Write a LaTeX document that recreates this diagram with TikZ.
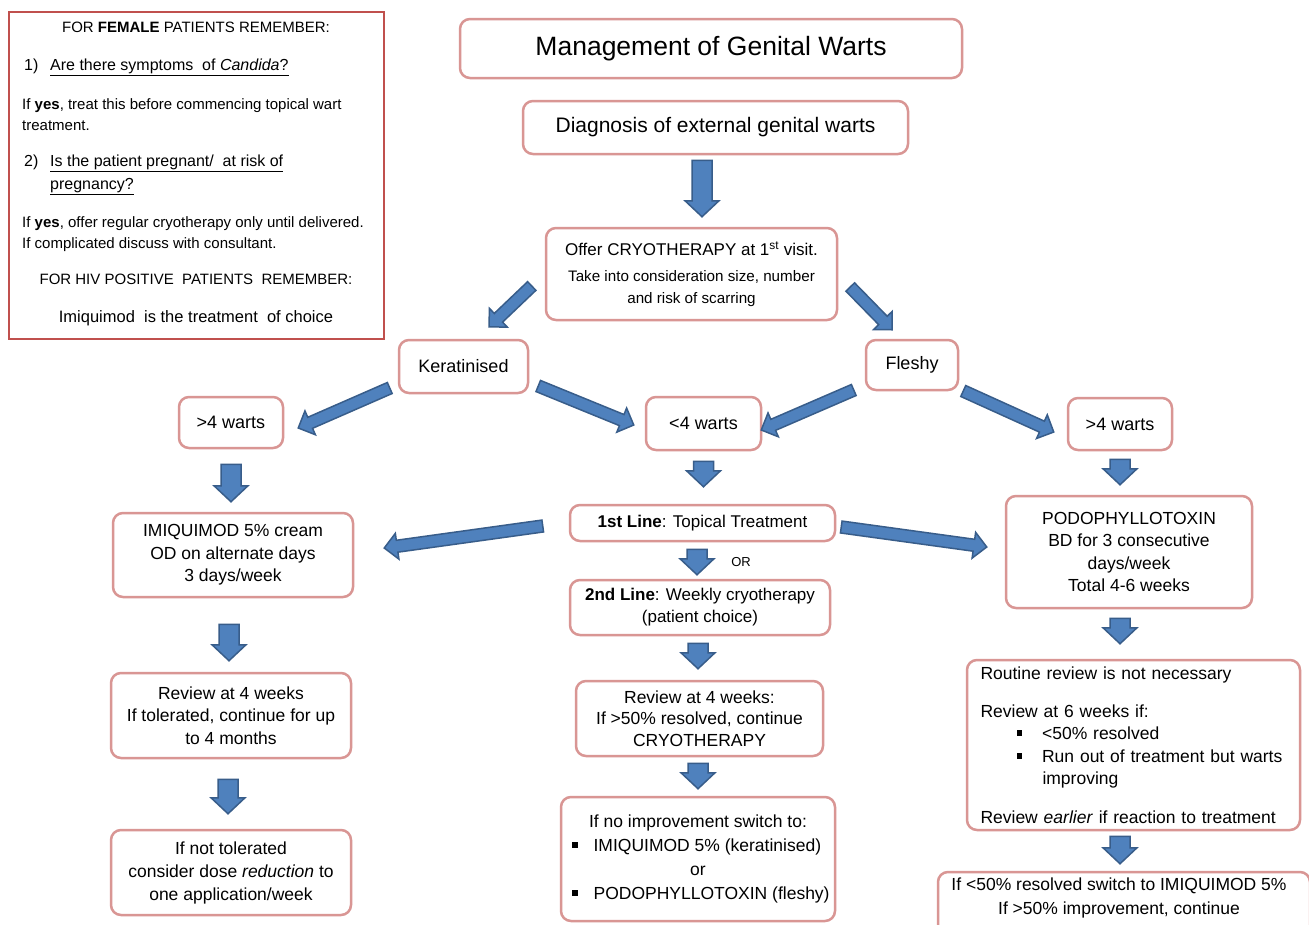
\documentclass[tikz,border=0pt]{standalone}
\usepackage{fontspec}
\setmainfont{Liberation Sans}
\usetikzlibrary{calc}
\definecolor{boxpink}{RGB}{217,150,148}
\definecolor{sidered}{RGB}{192,80,77}
\definecolor{arrowblue}{RGB}{79,129,189}
\definecolor{arrowedge}{RGB}{56,93,138}
\tikzset{
box/.style = {draw=boxpink, line width=2.5pt, rounded corners=10pt, fill=white,
              align=center, inner sep=2pt, font=\fontsize{17.5}{22.5}\selectfont}
}
\tikzset{
wartbox/.style = {box, font=\fontsize{18}{22}\selectfont},
note/.style = {inner sep=0pt, font=\fontsize{15}{21}\selectfont},
bignote/.style = {inner sep=0pt, font=\fontsize{16}{21}\selectfont},
bigarrow/.style = {fill=arrowblue, draw=arrowedge, line width=1.5pt, line join=miter}
}
\newcommand{\sqb}{\rule[0.2em]{0.32em}{0.32em}}
\newcommand{\smalltxt}{\fontsize{15.2}{20}\selectfont}
% half shaft, half head, head length, tail, tip
\newcommand{\blockarrow}[5]{%
  \coordinate (at) at (#4);
  \coordinate (ah) at (#5);
  \coordinate (hb) at ($(ah)!#3!(at)$);
  \path[bigarrow] ($(at)!#1!90:(ah)$) -- ($(hb)!#1!90:(ah)$) -- ($(hb)!#2!90:(ah)$) -- (ah)
     -- ($(hb)!#2!-90:(ah)$) -- ($(hb)!#1!-90:(ah)$) -- ($(at)!#1!-90:(ah)$) -- cycle;
}
\newcommand{\vbarrow}[2]{\blockarrow{10pt}{17pt}{16pt}{#1}{#2}}
\newcommand{\dbarrow}[2]{\blockarrow{6pt}{13pt}{13pt}{#1}{#2}}

\begin{document}
\begin{tikzpicture}[x=1pt,y=-1pt]
    \clip (0,0) rectangle (1309,924);
    \fill[white] (0,0) rectangle (1309,924);

    % QUADRO LATERAL
    \node[draw=sidered, line width=2.5pt, fill=white, minimum width=375, minimum height=327] (side) at (196.5,175.5) {};
    \node[note, anchor=base] (fem) at (196,32) {FOR \textbf{FEMALE} PATIENTS REMEMBER:};
    \node[bignote, anchor=base west] (qa) at (24,70) {1)};
    \node[bignote, anchor=base west] (qat) at (50,70) {\underline{Are there symptoms\ \ of \textit{Candida}?}};
    \node[note, anchor=base west] (qab) at (22,109) {If \textbf{yes}, treat this before commencing topical wart};
    \node[note, anchor=base west] (qac) at (22,130) {treatment.};
    \node[bignote, anchor=base west] (qb) at (24,166) {2)};
    \node[bignote, anchor=base west] (qbt) at (50,166) {\underline{Is the patient pregnant/\ \ at risk of}};
    \node[bignote, anchor=base west] (qbu) at (50,189) {\underline{pregnancy?}};
    \node[note, anchor=base west] (qbb) at (22,227) {If \textbf{yes}, offer regular cryotherapy only until delivered.};
    \node[note, anchor=base west] (qbc) at (22,248) {If complicated discuss with consultant.};
    \node[note, anchor=base] (hiv) at (196,284) {FOR HIV POSITIVE\ \ PATIENTS\ \ REMEMBER:};
    \node[bignote, font=\fontsize{16.5}{21}\selectfont, anchor=base] (imq) at (196,322) {Imiquimod\ \ is the treatment\ \ of choice};

    % CAIXAS
    \node[box, minimum width=502, minimum height=59, font=\fontsize{26.5}{30}\selectfont] (title) at (711,48.5) {Management of Genital Warts};
    \node[box, minimum width=385, minimum height=53, font=\fontsize{21}{25}\selectfont] (diag) at (715.5,127.5) {Diagnosis of external genital warts};
    \node[box, minimum width=291, minimum height=92, font=\fontsize{17}{22}\selectfont] (offer) at (691.5,274)
        {Offer CRYOTHERAPY at 1\textsuperscript{st} visit.\\[4pt]
         \smalltxt Take into consideration size, number\\ \smalltxt and risk of scarring};
    \node[wartbox, minimum width=129, minimum height=53] (kerat) at (463.5,366.5) {Keratinised};
    \node[wartbox, minimum width=92, minimum height=50] (fleshy) at (912,365) {Fleshy};
    \node[wartbox, minimum width=104, minimum height=51] (gtl) at (231,422.5) {>4 warts};
    \node[wartbox, minimum width=115, minimum height=53] (lt) at (703.5,423.5) {<4 warts};
    \node[wartbox, minimum width=104, minimum height=52] (gtr) at (1120,424) {>4 warts};

    \node[box, minimum width=240, minimum height=84] (imiq) at (233,555) {IMIQUIMOD 5\% cream\\OD on alternate days\\3 days/week};
    \node[box, minimum width=265, minimum height=36, font=\fontsize{17}{22}\selectfont] (lineone) at (702.5,523) {\textbf{1st Line}: Topical Treatment};
    \node[font=\fontsize{13}{15}\selectfont] (orlbl) at (741,562) {OR};
    \node[box, minimum width=260, minimum height=55, font=\fontsize{17}{22}\selectfont] (linetwo) at (700,607.5) {\textbf{2nd Line}: Weekly cryotherapy\\(patient choice)};
    \node[box, minimum width=246, minimum height=112] (podo) at (1129,552) {PODOPHYLLOTOXIN\\BD for 3 consecutive\\days/week\\Total 4-6 weeks};

    \node[box, minimum width=240, minimum height=85] (revl) at (231,715.5) {Review at 4 weeks\\If tolerated, continue for up\\to 4 months};
    \node[box, minimum width=247, minimum height=75, font=\fontsize{17.5}{21.5}\selectfont] (revm) at (699.5,718.5) {Review at 4 weeks:\\If >50\% resolved, continue\\CRYOTHERAPY};
    \node[box, minimum width=333, minimum height=170, text width=306, align=left, inner xsep=12pt] (routine) at (1133.5,745)
        {Routine review is not necessary\\[15pt]
         Review at 6 weeks if:\\
         \hspace*{36pt}\sqb\hspace{20pt}<50\% resolved\\
         \hspace*{36pt}\sqb\hspace{20pt}Run out of treatment but warts\\
         \hspace*{62pt}improving\\[16pt]
         Review \textit{earlier} if reaction to treatment};

    \node[box, minimum width=240, minimum height=85, font=\fontsize{17.5}{23}\selectfont] (nottol) at (231,872.5) {If not tolerated\\consider dose \textit{reduction} to\\one application/week};
    \node[box, minimum width=274, minimum height=124, font=\fontsize{17.5}{24}\selectfont] (noimp) at (698,859)
        {If no improvement switch to:\\
         \makebox[252pt][l]{\sqb\hspace{16pt}IMIQUIMOD 5\% (keratinised)}\\
         or\\
         \makebox[252pt][l]{\sqb\hspace{16pt}PODOPHYLLOTOXIN (fleshy)}};
    \node[box, minimum width=372, minimum height=80] (switch) at (1124,912) {};
    \node[font=\fontsize{17.5}{24}\selectfont, align=center] (switchtxt) at (1119,898) {If <50\% resolved switch to IMIQUIMOD 5\%\\If >50\% improvement, continue};

    % SETAS
    \vbarrow{$(diag.south)+(-13.5,5)$}{$(offer.north)+(10.5,-10)$}
    \vbarrow{$(lt.south)+(0,10)$}{$(lineone.north)+(1,-17)$}
    \vbarrow{$(gtl.south)+(0,15)$}{$(imiq.north)+(-2,-10)$}
    \vbarrow{$(lineone.south)+(-5.5,7)$}{$(linetwo.north)+(-3,-4)$}
    \vbarrow{$(linetwo.south)+(-2,7)$}{$(revm.north)+(-1.5,-11)$}
    \vbarrow{$(revm.south)+(-1.5,6)$}{$(noimp.north)+(0,-7)$}
    \vbarrow{$(imiq.south)+(-4,26)$}{$(revl.north)+(-2,-11)$}
    \vbarrow{$(revl.south)+(-3,20)$}{$(nottol.north)+(-3,-15)$}
    \vbarrow{$(gtr.south)+(0,8)$}{$(podo.north)+(-9,-10)$}
    \vbarrow{$(podo.south)+(-9,9)$}{$(routine.north)+(-13.5,-15)$}
    \vbarrow{$(routine.south)+(-13.5,5)$}{$(switch.north)+(-4,-7)$}

    \dbarrow{$(offer.west)+(-13,12)$}{$(kerat.north)+(25.5,-12)$}
    \dbarrow{$(offer.east)+(12,13)$}{$(fleshy.north)+(-20,-9)$}
    \dbarrow{$(kerat.west)+(-8,21.5)$}{$(gtl.east)+(14,5.5)$}
    \dbarrow{$(kerat.east)+(9,19.5)$}{$(lt.west)+(-11,1.5)$}
    \dbarrow{$(fleshy.west)+(-11,25)$}{$(lt.east)+(-1,6.5)$}
    \dbarrow{$(fleshy.east)+(4,26)$}{$(gtr.west)+(-13,8)$}
    \dbarrow{$(lineone.west)+(-26,3)$}{$(imiq.east)+(30,-7)$}
    \dbarrow{$(lineone.east)+(5,4)$}{$(podo.west)+(-18,-5)$}

\end{tikzpicture}
\end{document}
